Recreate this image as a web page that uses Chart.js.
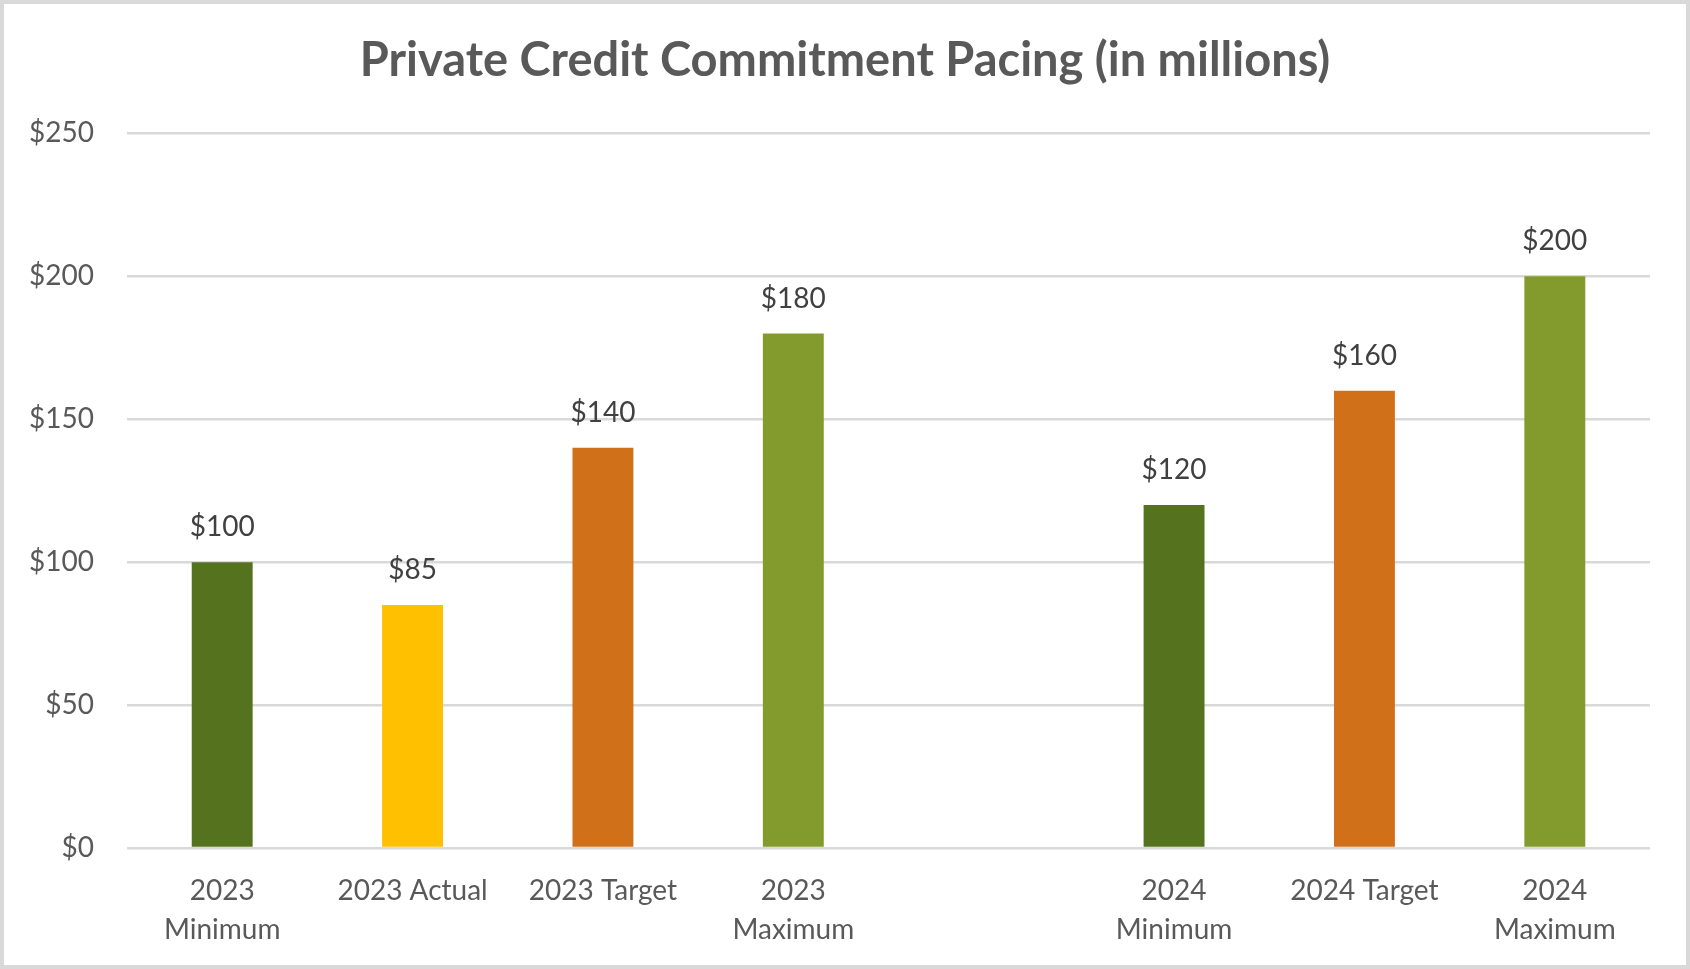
<!DOCTYPE html>
<html>
<head>
<meta charset="utf-8">
<script src="https://cdn.jsdelivr.net/npm/chart.js@4/dist/chart.umd.min.js"></script>
<style>
  html, body { margin: 0; padding: 0; background: #fff; }
  #wrap { width: 1690px; height: 969px; }
</style>
</head>
<body>
<div id="wrap"><canvas id="chart"></canvas></div>
<script>
const categories = [
    ["2023", "Minimum"], "2023 Actual", "2023 Target", ["2023", "Maximum"],
    "",
    ["2024", "Minimum"], "2024 Target", ["2024", "Maximum"]
];
const values = [100, 85, 140, 180, null, 120, 160, 200];
const barColors = ['#55721f', '#ffc000', '#d0711a', '#839b2c', '#ffffff', '#55721f', '#d0711a', '#839b2c'];
const yTicks = [0, 50, 100, 150, 200, 250];

const fontFamily = 'Lato, "Open Sans", sans-serif';

const frame = {
    id: 'frame',
    beforeDraw(chart) {
        const ctx = chart.ctx;
        ctx.save();
        ctx.fillStyle = '#ffffff';
        ctx.fillRect(0, 0, chart.width, chart.height);
        ctx.strokeStyle = '#d9d9d9';
        ctx.lineWidth = 4;
        ctx.strokeRect(2, 2, chart.width - 4, chart.height - 4);
        ctx.restore();
    }
};

const barLabels = {
    id: 'barLabels',
    afterDatasetsDraw(chart) {
        const ctx = chart.ctx;
        const meta = chart.getDatasetMeta(0);
        ctx.save();
        ctx.font = '28px ' + fontFamily;
        ctx.fillStyle = '#404040';
        ctx.textAlign = 'center';
        ctx.textBaseline = 'middle';
        meta.data.forEach((bar, i) => {
            if (values[i] == null) return;
            ctx.fillText('$' + values[i], bar.x, bar.y - 35);
        });
        ctx.restore();
    }
};

new Chart(document.getElementById('chart'), {
    type: 'bar',
    data: {
        labels: categories,
        datasets: [{
            data: values,
            backgroundColor: barColors,
            categoryPercentage: 0.32,
            barPercentage: 1
        }]
    },
    options: {
        responsive: true,
        maintainAspectRatio: false,
        animation: false,
        layout: { padding: 0 },
        plugins: {
            legend: { display: false },
            tooltip: { enabled: false },
            title: {
                display: true,
                text: 'Private Credit Commitment Pacing (in millions)',
                color: '#595959',
                font: { family: fontFamily, size: 47, weight: 'bold', lineHeight: 1.2 },
                padding: { top: 33, bottom: 44 }
            }
        },
        scales: {
            x: {
                grid: { display: false },
                border: { display: false },
                ticks: {
                    color: '#595959',
                    font: { family: fontFamily, size: 28, lineHeight: 1.38 },
                    padding: 16,
                    maxRotation: 0,
                    autoSkip: false
                },
                afterFit(scale) { scale.height = 121; }
            },
            y: {
                min: 0,
                max: 250,
                afterBuildTicks(scale) { scale.ticks = yTicks.map(v => ({ value: v })); },
                grid: { color: '#d9d9d9', lineWidth: 2.5, drawTicks: false },
                border: { display: false },
                ticks: {
                    color: '#595959',
                    font: { family: fontFamily, size: 28 },
                    padding: 33,
                    callback: v => '$' + v
                },
                afterFit(scale) { scale.width = 127; }
            },
            // empty right-hand margin so the title stays centred on the page
            margin: {
                type: 'linear',
                position: 'right',
                min: 0,
                max: 250,
                grid: { display: false, drawTicks: false },
                border: { display: false },
                ticks: { display: false },
                afterFit(scale) { scale.width = 40; }
            }
        }
    },
    plugins: [frame, barLabels]
});
</script>
</body>
</html>
